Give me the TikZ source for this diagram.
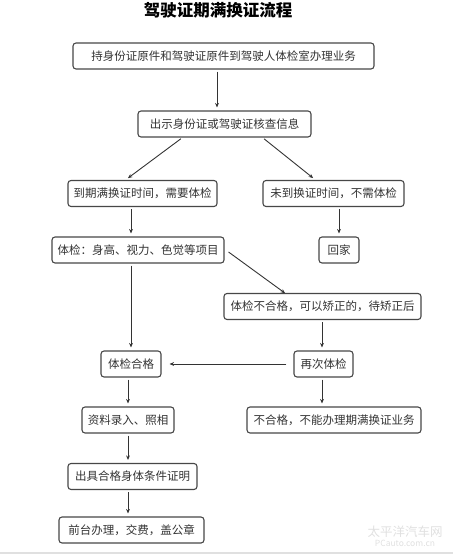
\documentclass[tikz,border=0pt]{standalone}
\usepackage{fontspec}
\setmainfont{Noto Sans CJK SC}
\usetikzlibrary{arrows.meta}
\tikzset{
  box/.style={draw=black!72, line width=1.1pt, rounded corners=3pt, fill=white,
    minimum height=26pt, inner sep=0pt, font=\fontsize{11.5}{13}\selectfont, text=black!80},
  arr/.style={draw=black!80, line width=0.9pt, -{Stealth[length=4.5pt,width=3.8pt]}, shorten <=2pt, shorten >=3pt}
}
\begin{document}
\begin{tikzpicture}[x=1pt,y=-1pt]
\useasboundingbox (0,0) rectangle (453,554);
\fill[black!12] (0,552) rectangle (453,554);
\node[font=\fontsize{16.5}{18}\selectfont\bfseries] (title) at (218,10) {驾驶证期满换证流程};

\node[box, minimum width=301pt] (b1) at (223.5,56) {持身份证原件和驾驶证原件到驾驶人体检室办理业务};
\node[box, minimum width=173pt] (b2) at (224.5,124) {出示身份证或驾驶证核查信息};
\node[box, minimum width=149pt] (b3) at (142.5,193.5) {到期满换证时间，需要体检};
\node[box, minimum width=141pt] (b4) at (333.5,193.5) {未到换证时间，不需体检};
\node[box, minimum width=172pt] (b5) at (138,250) {体检：身高、视力、色觉等项目};
\node[box, minimum width=40pt] (b6) at (339,250) {回家};
\node[box, minimum width=197pt] (b7) at (322.5,306.5) {体检不合格，可以矫正的，待矫正后};
\node[box, minimum width=60pt] (b8) at (131,364) {体检合格};
\node[box, minimum width=59pt] (b9) at (323.5,364) {再次体检};
\node[box, minimum width=92pt] (b10) at (128,420) {资料录入、照相};
\node[box, minimum width=174pt] (b11) at (334,420) {不合格，不能办理期满换证业务};
\node[box, minimum width=129pt] (b12) at (132.5,476.5) {出具合格身体条件证明};
\node[box, minimum width=145pt] (b13) at (131.5,530) {前台办理，交费，盖公章};

\node[text=black!12, font=\fontsize{12.5}{13}\selectfont] (wm1) at (405,532) {太平洋汽车网};
\node[text=black!12, font=\fontsize{8.5}{9}\selectfont] (wm2) at (405,543.5) {PCauto.com.cn};

\draw[arr] (b1.south -| 217,0) -- (b2.north -| 217,0);
\draw[arr] ([xshift=-42pt]b2.south) -- ([xshift=-17pt]b3.north);
\draw[arr] ([xshift=38pt]b2.south) -- ([xshift=-18pt]b4.north);
\draw[arr] (b3.south -| 131,0) -- (b5.north -| 131,0);
\draw[arr] (b4.south -| 339,0) -- (b6.north -| 339,0);
\draw[arr, shorten <=0pt] ([xshift=4pt,yshift=-2pt]b5.east) -- ([xshift=-35pt,yshift=-2pt]b7.north);
\draw[arr] (b5.south -| 131,0) -- (b8.north -| 131,0);
\draw[arr] (b7.south -| 322,0) -- (b9.north -| 322,0);
\draw[arr, shorten <=7pt, shorten >=8pt] (b9.west) -- (b8.east);
\draw[arr] (b8.south -| 128,0) -- (b10.north -| 128,0);
\draw[arr] (b9.south -| 322,0) -- (b11.north -| 322,0);
\draw[arr] (b10.south -| 128,0) -- (b12.north -| 128,0);
\draw[arr] (b12.south -| 128,0) -- (b13.north -| 128,0);
\end{tikzpicture}
\end{document}
